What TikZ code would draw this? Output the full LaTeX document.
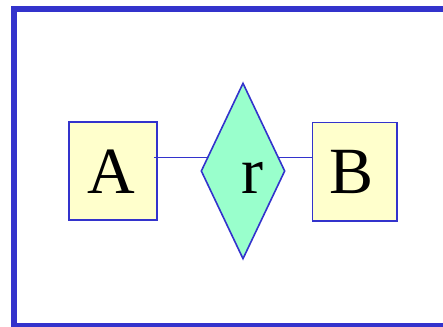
\documentclass[tikz,border=0pt]{standalone}
\usepackage{fontspec}
\setmainfont{Liberation Serif}
\usetikzlibrary{shapes.geometric,calc}
\definecolor{erblue}{HTML}{3333CC}
\definecolor{entfill}{HTML}{FFFFCC}
\definecolor{relfill}{HTML}{99FFCC}
\tikzset{
  entity/.style={draw=erblue, fill=entfill, line width=1.6pt, inner sep=0pt},
  relation/.style={draw=erblue, fill=relfill, line width=1.6pt, diamond, inner sep=0pt},
  conn/.style={draw=erblue, line width=1.6pt},
  bigtext/.style={font=\fontsize{66}{66}\selectfont, inner sep=0pt}
}
\begin{document}
\begin{tikzpicture}[x=1pt,y=-1pt]
\useasboundingbox (0,0) rectangle (443,326);
\clip (0,0) rectangle (443,326);
\draw[erblue, line width=6pt] (13.5,9) rectangle (450,325.7);
\node[entity, minimum width=88pt, minimum height=98pt] (A) at (113,171) {};
\node[entity, minimum width=84.4pt, minimum height=98.4pt] (B) at (354.5,171.5) {};
\node[relation, minimum width=84pt, minimum height=176pt] (R) at (243,171) {};
\node[bigtext] (At) at (111,172) {A};
\node[bigtext] (Bt) at (352,172) {B};
\node[bigtext] (Rt) at (252,178) {r};
\coordinate (RL) at ($(R.west)!0.151!(R.north)$);
\coordinate (RR) at ($(R.east)!0.151!(R.north)$);
\draw[conn] ([xshift=-4pt]A.east |- RL) -- (RL);
\draw[conn] (RR) -- (B.west |- RR);
\end{tikzpicture}
\end{document}
